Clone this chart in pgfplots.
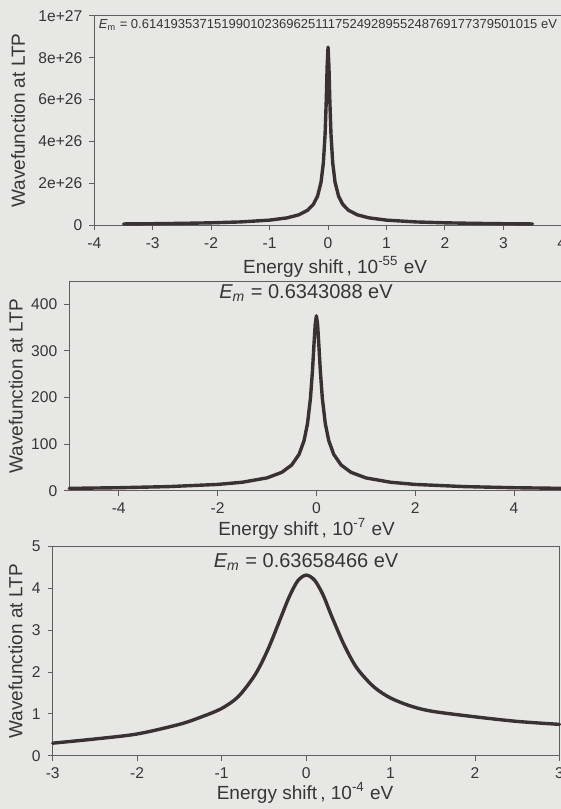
\documentclass[border=0pt]{standalone}
\usepackage{pgfplots}
\pgfplotsset{compat=1.18}
\usepackage{fontspec}
\setmainfont{Liberation Sans}
\definecolor{paper}{RGB}{231,231,227}
\definecolor{ink}{RGB}{55,53,53}
\definecolor{curvec}{RGB}{58,50,50}
\definecolor{frame}{RGB}{95,95,95}
\pgfplotsset{
  base/.style={
    scale only axis,
    anchor=south west,
    clip=false,
    scaled y ticks=false,
    scaled x ticks=false,
    axis line style={frame, line width=0.5pt},
    tick style={frame, line width=0.5pt},
    major tick length=2.5pt,
    tick align=outside,
    tick pos=left,
    ticklabel style={font=\fontsize{7.8}{8}\selectfont, text=ink},
    label style={font=\fontsize{9.5}{10}\selectfont, text=ink},
    ylabel style={anchor=center},
    xlabel style={anchor=center},
  },
  curve/.style={curvec, line width=1.7pt, line join=round, line cap=round, no markers},
}
\begin{document}
\begin{tikzpicture}
\fill[paper] (0,0) rectangle (280.5pt,404.5pt);
% ---------- panel 1 ----------
\begin{axis}[base,
  at={(47.15pt,291.75pt)}, width=233.75pt, height=104.9pt,
  xmin=-4, xmax=4, ymin=0, ymax=1e27,
  xtick={-4,-3,-2,-1,0,1,2,3,4},
  xticklabels={-4,-3,-2,-1,0,1,2,3,4},
  ytick={0,2e26,4e26,6e26,8e26,1e27},
  yticklabels={0,2e+26,4e+26,6e+26,8e+26,1e+27},
  xlabel={Energy shift\,, 10\textsuperscript{-55} eV},
  ylabel={Wavefunction at LTP},
  xlabel style={at={(axis description cs:0.515,-0.198)}},
  ylabel style={at={(axis description cs:-0.163,0.5)}},
]
\addplot[curve] coordinates {
(-3.5,7.28e24) (-3,8.50e24) (-2.5,1.02e25) (-2,1.275e25) (-1.5,1.70e25)
(-1,2.55e25) (-0.7,3.64e25) (-0.5,5.09e25) (-0.35,7.26e25) (-0.25,1.013e26)
(-0.18,1.397e26) (-0.12,2.062e26) (-0.08,2.985e26) (-0.05,4.373e26)
(-0.03,6.01e26) (-0.015,7.603e26) (0,8.5e26)
(0.015,7.603e26) (0.03,6.01e26) (0.05,4.373e26) (0.08,2.985e26)
(0.12,2.062e26) (0.18,1.397e26) (0.25,1.013e26) (0.35,7.26e25)
(0.5,5.09e25) (0.7,3.64e25) (1,2.55e25) (1.5,1.70e25) (2,1.275e25)
(2.5,1.02e25) (3,8.50e24) (3.5,7.28e24)
};
\node[anchor=west, font=\fontsize{6.5}{7}\selectfont, text=ink, inner sep=0pt]
  at (axis description cs:0.0088,0.956)
  {\textit{E}\textsubscript{m} = 0.6141935371519901023696251117524928955248769177379501015 eV};
\end{axis}
% ---------- panel 2 ----------
\begin{axis}[base,
  at={(34.65pt,159pt)}, width=247.1pt, height=104.65pt,
  xmin=-5, xmax=5, ymin=0, ymax=448,
  xtick={-4,-2,0,2,4},
  xticklabels={-4,-2,0,2,4},
  ytick={0,100,200,300,400},
  yticklabels={0,100,200,300,400},
  xlabel={Energy shift\,, 10\textsuperscript{-7} eV},
  ylabel={Wavefunction at LTP},
  xlabel style={at={(axis description cs:0.48,-0.182)}},
  ylabel style={at={(axis description cs:-0.108,0.5)}},
]
\addplot[curve] coordinates {
(-5,5.62) (-4,7.03) (-3,9.37) (-2,14.05) (-1.5,18.73) (-1,28.05)
(-0.7,39.95) (-0.5,55.63) (-0.35,78.57) (-0.25,107.8) (-0.18,144.2)
(-0.12,198.7) (-0.08,256.5) (-0.05,312.0) (-0.025,355.8) (0,375)
(0.025,355.8) (0.05,312.0) (0.08,256.5) (0.12,198.7) (0.18,144.2)
(0.25,107.8) (0.35,78.57) (0.5,55.63) (0.7,39.95) (1,28.05)
(1.5,18.73) (2,14.05) (3,9.37) (4,7.03) (5,5.62)
};
\node[anchor=center, font=\fontsize{10}{11}\selectfont, text=ink]
  at (axis description cs:0.479,0.945)
  {\textit{E\textsubscript{m}} = 0.6343088 eV};
\end{axis}
% ---------- panel 3 ----------
\begin{axis}[base,
  at={(26.35pt,26.65pt)}, width=253.4pt, height=104.5pt,
  xmin=-3, xmax=3, ymin=0, ymax=5,
  xtick={-3,-2,-1,0,1,2,3},
  xticklabels={-3,-2,-1,0,1,2,3},
  ytick={0,1,2,3,4,5},
  yticklabels={0,1,2,3,4,5},
  xlabel={Energy shift\,, 10\textsuperscript{-4} eV},
  ylabel={Wavefunction at LTP},
  xlabel style={at={(axis description cs:0.498,-0.178)}},
  ylabel style={at={(axis description cs:-0.0734,0.5)}},
]
\addplot[curve, smooth, tension=0.5] coordinates {
(-3,0.30) (-2.5,0.40) (-2,0.52) (-1.5,0.75) (-1.25,0.92) (-1,1.13)
(-0.8,1.42) (-0.6,1.95) (-0.45,2.55) (-0.3,3.30) (-0.2,3.80) (-0.1,4.18)
(0,4.32) (0.1,4.20) (0.2,3.85) (0.3,3.35) (0.45,2.65) (0.6,2.10)
(0.8,1.65) (1,1.38) (1.25,1.18) (1.5,1.06) (2,0.93) (2.5,0.82) (3,0.75)
};
\node[anchor=center, font=\fontsize{10}{11}\selectfont, text=ink]
  at (axis description cs:0.5,0.927)
  {\textit{E\textsubscript{m}} = 0.63658466 eV};
\end{axis}
\pgfresetboundingbox
\useasboundingbox (0,0) rectangle (280.5pt,404.5pt);
\end{tikzpicture}
\end{document}
